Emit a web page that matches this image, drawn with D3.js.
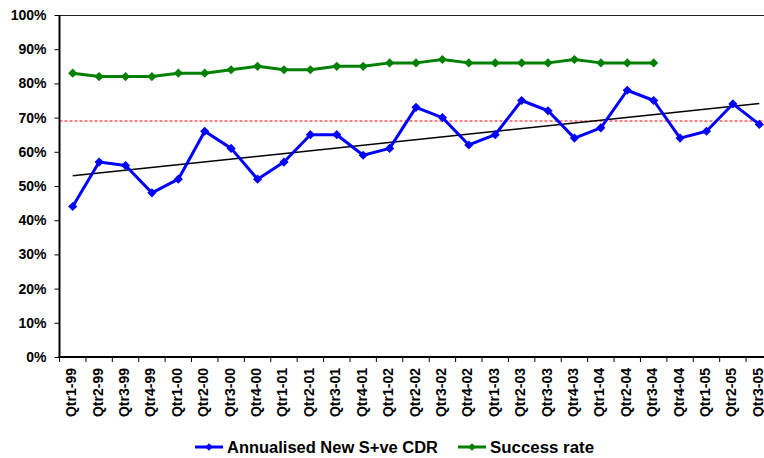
<!DOCTYPE html>
<html>
<head>
<meta charset="utf-8">
<script src="https://cdn.jsdelivr.net/npm/d3@7"></script>
<style>
	body { margin: 0; background: #fff; }
	svg { display: block; font-family: Arial, "Liberation Sans", sans-serif; font-weight: bold; }
</style>
</head>
<body>
<div id="chart"></div>
<script>
const quarters = ['Qtr1-99', 'Qtr2-99', 'Qtr3-99', 'Qtr4-99', 'Qtr1-00', 'Qtr2-00', 'Qtr3-00', 'Qtr4-00',
	'Qtr1-01', 'Qtr2-01', 'Qtr3-01', 'Qtr4-01', 'Qtr1-02', 'Qtr2-02', 'Qtr3-02', 'Qtr4-02',
	'Qtr1-03', 'Qtr2-03', 'Qtr3-03', 'Qtr4-03', 'Qtr1-04', 'Qtr2-04', 'Qtr3-04', 'Qtr4-04',
	'Qtr1-05', 'Qtr2-05', 'Qtr3-05'];

const cdr = [44, 57, 56, 48, 52, 66, 61, 52, 57, 65, 65, 59, 61, 73, 70, 62, 65, 75, 72, 64, 67, 78, 75, 64, 66, 74, 68];

const success = [83, 82, 82, 82, 83, 83, 84, 85, 84, 84, 85, 85, 86, 86, 87, 86, 86, 86, 86, 87, 86, 86, 86];

const target = 69;

const yTicks = [0, 10, 20, 30, 40, 50, 60, 70, 80, 90, 100];

const legendNames = ['Annualised New S+ve CDR', 'Success rate'];

function drawChart() {
	const width = 764,
		height = 458;
	const plot = { left: 59.5, right: 772.5, top: 15, bottom: 357 };

	const svg = d3.select('#chart').append('svg').attr('width', width).attr('height', height);

	const xScale = d3.scaleBand().domain(quarters).range([plot.left, plot.right]).paddingInner(0).paddingOuter(0);
	const yScale = d3.scaleLinear().domain([0, 100]).range([plot.bottom, plot.top]);
	const cx = (i) => xScale(quarters[i]) + xScale.bandwidth() / 2;

	// top border of plot area
	svg.append('line')
		.attr('x1', plot.left).attr('x2', plot.right)
		.attr('y1', plot.top + 0.5).attr('y2', plot.top + 0.5)
		.attr('stroke', '#222').attr('stroke-width', 1);

	// target line
	svg.append('line')
		.attr('x1', plot.left).attr('x2', plot.right)
		.attr('y1', yScale(target)).attr('y2', yScale(target))
		.attr('stroke', '#ff0000').attr('stroke-width', 1).attr('stroke-dasharray', '3,2');

	// trend line (least squares on the CDR series, like an Excel linear trendline)
	const n = cdr.length,
		mx = d3.mean(cdr, (d, i) => i),
		my = d3.mean(cdr);
	const slope = d3.sum(cdr, (d, i) => (i - mx) * (d - my)) / d3.sum(cdr, (d, i) => (i - mx) * (i - mx));
	const icpt = my - slope * mx;
	svg.append('line')
		.attr('x1', cx(0)).attr('y1', yScale(icpt))
		.attr('x2', cx(n - 1)).attr('y2', yScale(icpt + slope * (n - 1)))
		.attr('stroke', '#000').attr('stroke-width', 1.5);

	const line = d3.line().x((d, i) => cx(i)).y((d) => yScale(d));
	const diamond = d3.symbol(d3.symbolSquare, 42);

	const series = [
		{ values: success, color: '#008000' },
		{ values: cdr, color: '#0000ff' },
	];

	series.forEach((s) => {
		svg.append('path')
			.datum(s.values)
			.attr('fill', 'none')
			.attr('stroke', s.color)
			.attr('stroke-width', 3)
			.attr('stroke-linejoin', 'round')
			.attr('d', line);

		svg.selectAll(null)
			.data(s.values)
			.enter()
			.append('path')
			.attr('d', diamond)
			.attr('fill', s.color)
			.attr('transform', (d, i) => `translate(${cx(i)},${yScale(d)}) rotate(45)`);
	});

	// y axis
	const yAxis = d3.axisLeft(yScale).tickValues(yTicks).tickFormat((d) => d + '%').tickSize(5).tickPadding(8);
	const gy = svg.append('g').attr('transform', `translate(${plot.left},0)`).call(yAxis);
	gy.select('.domain').attr('stroke', '#000').attr('stroke-width', 2).attr('d', `M0,${plot.top}V${plot.bottom + 1}`);
	gy.selectAll('.tick line').attr('stroke', '#000');
	gy.selectAll('.tick text').attr('fill', '#000').style('font-size', '14px').style('font-weight', 'bold').style('font-family', 'Arial, "Liberation Sans", sans-serif');

	// x axis
	const gx = svg.append('g').attr('transform', `translate(0,${plot.bottom})`);
	gx.append('line')
		.attr('x1', plot.left - 1).attr('x2', plot.right)
		.attr('stroke', '#000').attr('stroke-width', 2);
	gx.selectAll('.xtick')
		.data(quarters.concat(['end']))
		.enter()
		.append('line')
		.attr('x1', (d, i) => plot.left + i * xScale.bandwidth())
		.attr('x2', (d, i) => plot.left + i * xScale.bandwidth())
		.attr('y1', 0).attr('y2', 5)
		.attr('stroke', '#000');
	gx.selectAll('.xlabel')
		.data(quarters)
		.enter()
		.append('text')
		.attr('transform', (d, i) => `translate(${cx(i) + 3.5},11) rotate(-90)`)
		.attr('text-anchor', 'end')
		.style('font-size', '14px')
		.text((d) => d);

	// legend
	const legend = svg.append('g').attr('transform', 'translate(0,447)');
	const items = [
		{ name: legendNames[0], color: '#0000ff', x: 195, len: 211 },
		{ name: legendNames[1], color: '#008000', x: 458, len: 104 },
	];
	items.forEach((it) => {
		legend.append('line').attr('x1', it.x).attr('x2', it.x + 28).attr('stroke', it.color).attr('stroke-width', 3);
		legend.append('path').attr('d', d3.symbol(d3.symbolSquare, 30)).attr('fill', it.color)
			.attr('transform', `translate(${it.x + 14},0) rotate(45)`);
		legend.append('text')
			.attr('x', it.x + 32)
			.attr('dy', '0.36em')
			.attr('textLength', it.len)
			.attr('lengthAdjust', 'spacingAndGlyphs')
			.style('font-size', '16px')
			.text(it.name);
	});
}

drawChart();
</script>
</body>
</html>
